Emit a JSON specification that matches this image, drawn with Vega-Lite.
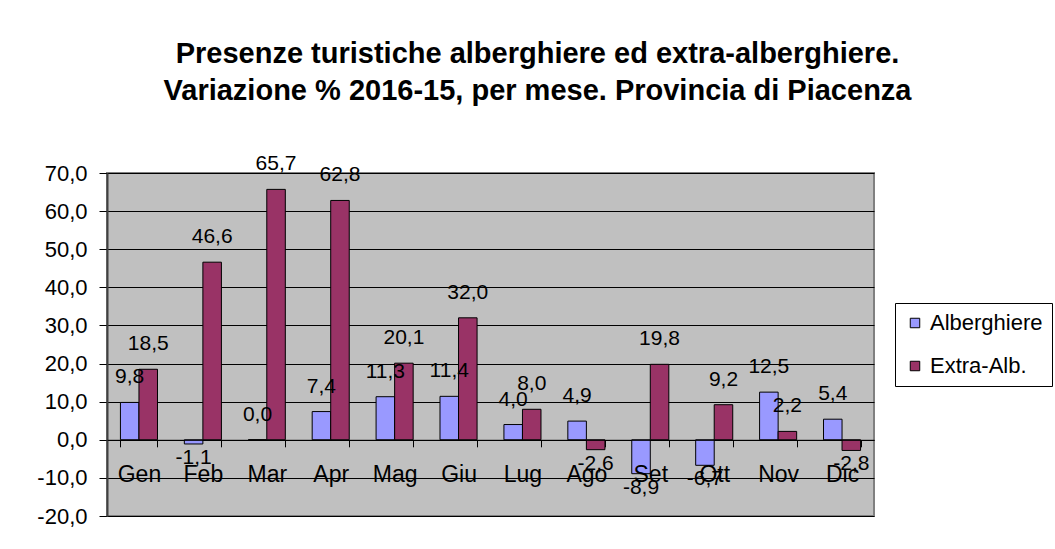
{
  "$schema": "https://vega.github.io/schema/vega-lite/v6.json",
  "autosize": {"type": "none"},
  "width": 767,
  "height": 343,
  "padding": {"left": 107, "top": 173, "right": 181, "bottom": 33},
  "background": "white",
  "title": {
    "text": ["Presenze turistiche alberghiere ed extra-alberghiere.", "Variazione % 2016-15, per mese. Provincia di Piacenza"],
    "font": "Liberation Sans",
    "fontSize": 29,
    "fontWeight": "bold",
    "color": "black",
    "anchor": "middle",
    "frame": "group",
    "dx": 47,
    "offset": 47,
    "lineHeight": 37
  },
  "data": {
    "values": [
      {"mese": "Gen", "serie": "Alberghiere", "valore": 9.8},
      {"mese": "Feb", "serie": "Alberghiere", "valore": -1.1},
      {"mese": "Mar", "serie": "Alberghiere", "valore": 0.0},
      {"mese": "Apr", "serie": "Alberghiere", "valore": 7.4},
      {"mese": "Mag", "serie": "Alberghiere", "valore": 11.3},
      {"mese": "Giu", "serie": "Alberghiere", "valore": 11.4},
      {"mese": "Lug", "serie": "Alberghiere", "valore": 4.0},
      {"mese": "Ago", "serie": "Alberghiere", "valore": 4.9},
      {"mese": "Set", "serie": "Alberghiere", "valore": -8.9},
      {"mese": "Ott", "serie": "Alberghiere", "valore": -6.7},
      {"mese": "Nov", "serie": "Alberghiere", "valore": 12.5},
      {"mese": "Dic", "serie": "Alberghiere", "valore": 5.4},
      {"mese": "Gen", "serie": "Extra-Alb.", "valore": 18.5},
      {"mese": "Feb", "serie": "Extra-Alb.", "valore": 46.6},
      {"mese": "Mar", "serie": "Extra-Alb.", "valore": 65.7},
      {"mese": "Apr", "serie": "Extra-Alb.", "valore": 62.8},
      {"mese": "Mag", "serie": "Extra-Alb.", "valore": 20.1},
      {"mese": "Giu", "serie": "Extra-Alb.", "valore": 32.0},
      {"mese": "Lug", "serie": "Extra-Alb.", "valore": 8.0},
      {"mese": "Ago", "serie": "Extra-Alb.", "valore": -2.6},
      {"mese": "Set", "serie": "Extra-Alb.", "valore": 19.8},
      {"mese": "Ott", "serie": "Extra-Alb.", "valore": 9.2},
      {"mese": "Nov", "serie": "Extra-Alb.", "valore": 2.2},
      {"mese": "Dic", "serie": "Extra-Alb.", "valore": -2.8}
    ]
  },
  "encoding": {
    "x": {
      "field": "mese",
      "type": "nominal",
      "sort": ["Gen", "Feb", "Mar", "Apr", "Mag", "Giu", "Lug", "Ago", "Set", "Ott", "Nov", "Dic"],
      "scale": {"paddingInner": 0.42, "paddingOuter": 0.21},
      "axis": {
        "title": null,
        "orient": "bottom",
        "offset": -76.2,
        "domainColor": "black",
        "domainWidth": 1,
        "tickColor": "black",
        "tickSize": 7,
        "tickBand": "extent",
        "labelAngle": 0,
        "labelFontSize": 23,
        "labelFont": "Liberation Sans",
        "labelColor": "black",
        "labelPadding": 17,
        "grid": false,
        "zindex": 1
      }
    },
    "xOffset": {
      "field": "serie",
      "type": "nominal",
      "sort": ["Alberghiere", "Extra-Alb."],
      "scale": {"paddingInner": 0, "paddingOuter": 0}
    },
    "y": {
      "field": "valore",
      "type": "quantitative",
      "scale": {"domain": [-20, 70], "nice": false, "zero": false},
      "axis": {
        "title": null,
        "values": [-20, -10, 0, 10, 20, 30, 40, 50, 60, 70],
        "format": ".1f",
        "grid": true,
        "gridColor": "black",
        "gridWidth": 1,
        "gridOpacity": 1,
        "domainColor": "#404040",
        "domainWidth": 2,
        "tickColor": "black",
        "tickSize": 8,
        "labelPadding": 12,
        "labelFontSize": 22,
        "labelFont": "Liberation Sans",
        "labelColor": "black",
        "zindex": 0
      }
    }
  },
  "layer": [
    {
      "mark": {"type": "bar", "stroke": "black", "strokeWidth": 1, "opacity": 1},
      "encoding": {
        "color": {
          "field": "serie",
          "type": "nominal",
          "scale": {"domain": ["Alberghiere", "Extra-Alb."], "range": ["#9999FF", "#993366"]},
          "legend": {
            "title": null,
            "orient": "none",
            "legendX": 788,
            "legendY": 130,
            "strokeColor": "black",
            "fillColor": "white",
            "padding": 9,
            "symbolType": "square",
            "symbolSize": 90,
            "symbolStrokeColor": "black",
            "symbolStrokeWidth": 1,
            "symbolOpacity": 1,
            "labelFontSize": 22,
            "labelFont": "Liberation Sans",
            "labelColor": "black",
            "rowPadding": 21,
            "labelLimit": 300
          }
        }
      }
    },
    {
      "transform": [{"filter": "datum.valore >= 0"}],
      "mark": {"type": "text", "dy": -25, "baseline": "middle", "align": "center", "font": "Liberation Sans", "fontSize": 21, "color": "black"},
      "encoding": {"text": {"field": "valore", "type": "quantitative", "format": ".1f"}}
    },
    {
      "transform": [{"filter": "datum.valore < 0"}],
      "mark": {"type": "text", "dy": 14, "baseline": "middle", "align": "center", "font": "Liberation Sans", "fontSize": 21, "color": "black"},
      "encoding": {"text": {"field": "valore", "type": "quantitative", "format": ".1f"}}
    }
  ],
  "config": {
    "view": {"fill": "#C0C0C0", "stroke": "#808080", "strokeWidth": 2},
    "locale": {"number": {"decimal": ",", "thousands": ".", "grouping": [3], "currency": ["", " €"], "minus": "-"}}
  }
}
